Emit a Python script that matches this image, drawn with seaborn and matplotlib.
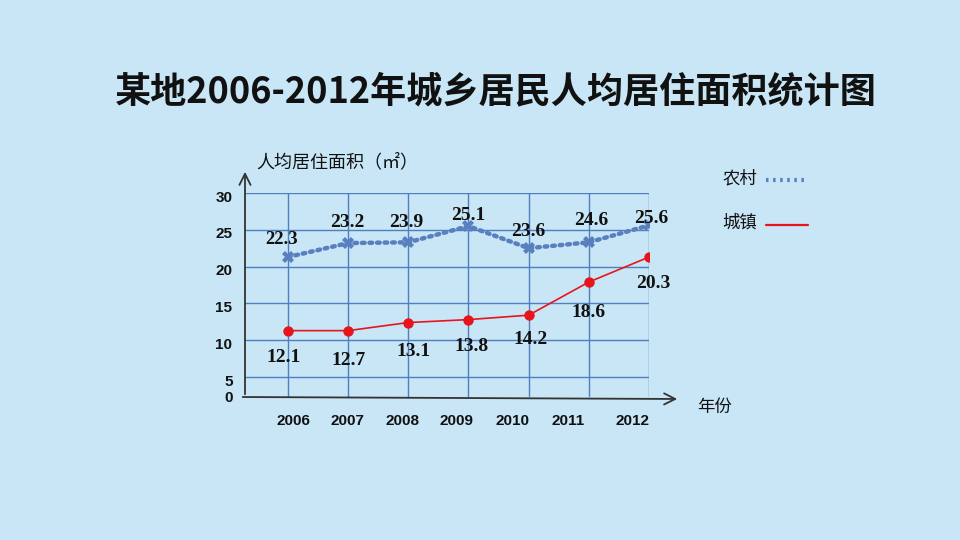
import matplotlib
matplotlib.use("Agg")
import matplotlib.pyplot as plt
import seaborn as sns
import pandas as pd

years = [2006, 2007, 2008, 2009, 2010, 2011, 2012]
rural_values = [21.3, 23.2, 23.3, 25.5, 22.5, 23.3, 25.6]
rural_labels = ["22.3", "23.2", "23.9", "25.1", "23.6", "24.6", "25.6"]
urban_values = [11.3, 11.3, 12.4, 12.8, 13.4, 17.9, 21.3]
urban_labels = ["12.1", "12.7", "13.1", "13.8", "14.2", "18.6", "20.3"]
ytick_values = [5, 10, 15, 20, 25, 30]
series_names = ["农村", "城镇"]

title = "某地2006-2012年城乡居民人均居住面积统计图"
ylabel = "人均居住面积（㎡）"
xlabel = "年份"

sns.set_style("white")
plt.rcParams["font.family"] = ["Noto Sans CJK SC", "DejaVu Sans"]

BG = "#c8e6f6"
GRID = "#4f7fbf"
RURAL = "#5a7fbf"
URBAN = "#e8141c"
AXC = "#333333"

fig = plt.figure(figsize=(9.6, 5.4), dpi=100, facecolor=BG)
ax = fig.add_axes([245 / 960, 1 - 397 / 540, 404 / 960, 204 / 540])
ax.set_facecolor(BG)

df = pd.DataFrame({"year": years, "rural": rural_values, "urban": urban_values})

ybot = 5 - 20 / 7.36
ax.set_xlim(2006 - 43 / 60.2, 2012)
ax.set_ylim(ybot, 30)

# grid
for yv in ytick_values:
    ax.axhline(yv, color=GRID, lw=1.0, zorder=1)
for xv in years:
    ax.axvline(xv, color=GRID, lw=1.0, zorder=1)

sns.lineplot(data=df, x="year", y="rural", ax=ax, color=RURAL, lw=3.2,
             linestyle=(0, (0.6, 1.1)), dash_capstyle="round", zorder=3,
             marker="X", markersize=9, markeredgewidth=0, markerfacecolor=RURAL)
sns.lineplot(data=df, x="year", y="urban", ax=ax, color=URBAN, lw=1.2, zorder=3,
             marker="o", markersize=7.5, markeredgewidth=0, markerfacecolor=URBAN)

# data labels
rural_offsets = [(-6, 18), (-1, 21), (-2, 20), (0, 11), (0, 17), (2, 22), (2, 7)]
urban_offsets = [(-4, -27), (0, -30), (5, -29), (3, -27), (2, -24), (0, -30), (4, -26)]
rural_sizes = [13.5, 14, 14, 14, 14, 14, 14]
for x, y, lab, (dx, dy), fs in zip(years, rural_values, rural_labels, rural_offsets, rural_sizes):
    ax.annotate(lab, (x, y), xytext=(dx, dy), textcoords="offset pixels",
                ha="center", va="center", fontsize=fs, fontweight="bold",
                family="Liberation Serif", color="#111111", zorder=5)
for x, y, lab, (dx, dy) in zip(years, urban_values, urban_labels, urban_offsets):
    ax.annotate(lab, (x, y), xytext=(dx, dy), textcoords="offset pixels",
                ha="center", va="center", fontsize=14, fontweight="bold",
                family="Liberation Serif", color="#111111", zorder=5)

# ticks
ax.set_yticks([ybot] + ytick_values)
ax.set_yticklabels(["0"] + [str(v) for v in ytick_values])
ax.set_xticks(years)
ax.set_xticklabels([str(y) for y in years])
ax.tick_params(axis="both", length=0, labelsize=11, colors="#111111")
ax.tick_params(axis="y", pad=9)
ax.tick_params(axis="x", pad=12)
for t in ax.get_yticklabels() + ax.get_xticklabels():
    t.set_family("Liberation Sans")
    t.set_fontweight("bold")
# nudge labels to match the reference placement
x_label_shift = [5, -1, -6, -12, -16, -21, -16]
for t, dxp in zip(ax.get_xticklabels(), x_label_shift):
    t.set_transform(t.get_transform() + matplotlib.transforms.ScaledTranslation(dxp / 100, 0, fig.dpi_scale_trans))
y_label_shift = [0, -3, -3, -3, -3, -3, -3]
for t, dyp in zip(ax.get_yticklabels(), y_label_shift):
    t.set_transform(t.get_transform() + matplotlib.transforms.ScaledTranslation(0, dyp / 100, fig.dpi_scale_trans))
ax.set_xlabel("")
ax.set_ylabel("")
for s in ax.spines.values():
    s.set_visible(False)

# axes with arrows
fig.add_artist(matplotlib.patches.FancyArrowPatch(
    (240 / 960, 1 - 397 / 540), (680 / 960, 1 - 399 / 540),
    transform=fig.transFigure, arrowstyle="->,head_length=8,head_width=4",
    color=AXC, lw=1.3, mutation_scale=1))
fig.add_artist(matplotlib.patches.FancyArrowPatch(
    (245 / 960, 1 - 397 / 540), (245 / 960, 1 - 169 / 540),
    transform=fig.transFigure, arrowstyle="->,head_length=8,head_width=4",
    color=AXC, lw=1.3, mutation_scale=1))

# texts
fig.text(496 / 960, 1 - 92 / 540, title, ha="center", va="center",
         fontsize=26, fontweight="bold", color="#111111")
fig.text(256 / 960, 1 - 162 / 540, ylabel, ha="left", va="center",
         fontsize=13, color="#111111")
fig.text(697 / 960, 1 - 407 / 540, xlabel, ha="left", va="center",
         fontsize=12.5, color="#111111")

# legend
fig.text(722 / 960, 1 - 178 / 540, series_names[0], ha="left", va="center",
         fontsize=12.5, color="#111111")
fig.text(722 / 960, 1 - 223 / 540, series_names[1], ha="left", va="center",
         fontsize=12.5, color="#111111")
fig.add_artist(matplotlib.lines.Line2D([766 / 960, 808 / 960], [1 - 180 / 540, 1 - 180 / 540],
               transform=fig.transFigure, color=RURAL, lw=3.0,
               linestyle=(0, (0.6, 1.1)), dash_capstyle="butt"))
fig.add_artist(matplotlib.lines.Line2D([766 / 960, 808 / 960], [1 - 225 / 540, 1 - 225 / 540],
               transform=fig.transFigure, color=URBAN, lw=1.6))

fig.savefig("out.png", dpi=100, facecolor=BG)
